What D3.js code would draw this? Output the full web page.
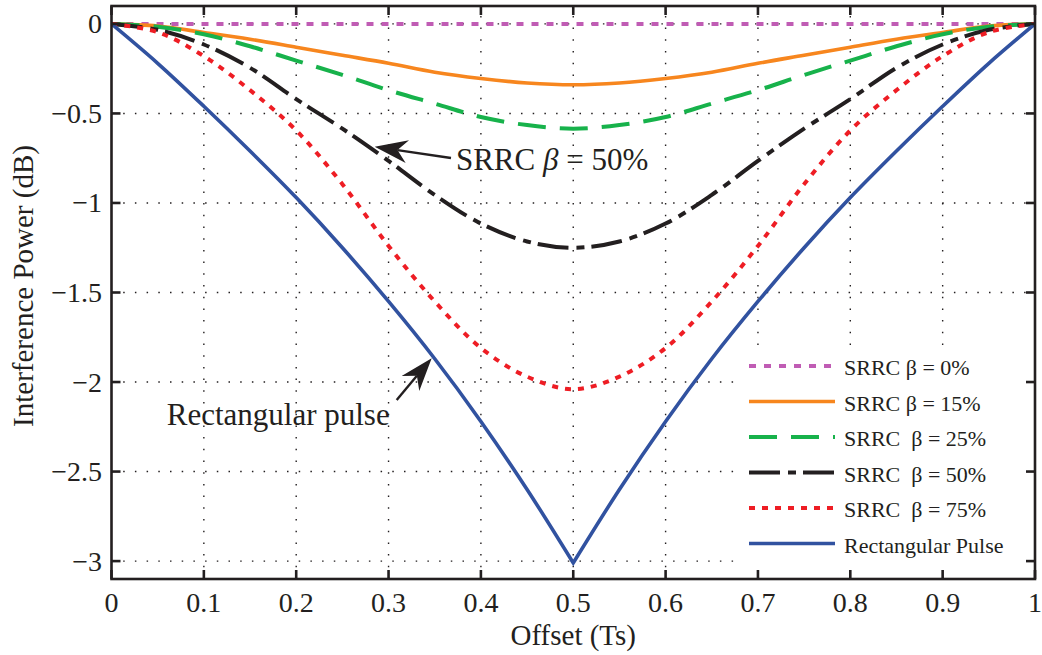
<!DOCTYPE html>
<html>
<head>
<meta charset="utf-8">
<script src="https://cdn.jsdelivr.net/npm/d3@7/dist/d3.min.js"></script>
<style>
  html, body { margin: 0; padding: 0; background: #fff; }
  svg { display: block; }
  text { font-family: "Liberation Serif", "Times New Roman", serif; fill: #231f20; white-space: pre; }
</style>
</head>
<body>
<svg id="chart" width="1042" height="655"></svg>
<script>
// Offset within the symbol period (Ts)
const offsets = [0, 0.05, 0.1, 0.15, 0.2, 0.25, 0.3, 0.35, 0.4, 0.45, 0.5,
                 0.55, 0.6, 0.65, 0.7, 0.75, 0.8, 0.85, 0.9, 0.95, 1];

// Interference power (dB) for each pulse shape
const srrc0  = [0, 0, 0, 0, 0, 0, 0, 0, 0, 0, 0, 0, 0, 0, 0, 0, 0, 0, 0, 0, 0];
const srrc15 = [0, -0.012, -0.048, -0.086, -0.13, -0.175, -0.22, -0.27, -0.305, -0.33, -0.34,
                -0.33, -0.305, -0.27, -0.22, -0.175, -0.13, -0.086, -0.048, -0.012, 0];
const srrc25 = [0, -0.016, -0.058, -0.125, -0.205, -0.285, -0.37, -0.445, -0.52, -0.565, -0.585,
                -0.565, -0.52, -0.445, -0.37, -0.285, -0.205, -0.125, -0.058, -0.016, 0];
const srrc50 = [0, -0.033, -0.115, -0.245, -0.42, -0.585, -0.765, -0.955, -1.115, -1.215, -1.25,
                -1.215, -1.115, -0.955, -0.765, -0.585, -0.42, -0.245, -0.115, -0.033, 0];
const srrc75 = [0, -0.046, -0.18, -0.37, -0.595, -0.895, -1.24, -1.55, -1.81, -1.97, -2.04,
                -1.97, -1.81, -1.55, -1.24, -0.895, -0.595, -0.37, -0.18, -0.046, 0];
const rectPulse = [0, -0.22, -0.46, -0.71, -0.97, -1.25, -1.55, -1.87, -2.22, -2.60, -3.01,
                   -2.60, -2.22, -1.87, -1.55, -1.25, -0.97, -0.71, -0.46, -0.22, 0];

const seriesNames = ["SRRC β = 0%", "SRRC β = 15%", "SRRC  β = 25%", "SRRC  β = 50%",
                     "SRRC  β = 75%", "Rectangular Pulse"];

const xTicks = [0, 0.1, 0.2, 0.3, 0.4, 0.5, 0.6, 0.7, 0.8, 0.9, 1];
const xTickLabels = ["0", "0.1", "0.2", "0.3", "0.4", "0.5", "0.6", "0.7", "0.8", "0.9", "1"];
const yTicks = [0, -0.5, -1, -1.5, -2, -2.5, -3];
const yTickLabels = ["0", "\u22120.5", "\u22121", "\u22121.5", "\u22122", "\u22122.5", "\u22123"];

const series = [
  { name: seriesNames[0], values: srrc0,     color: "#c05cb4", dash: "7,8",      width: 4,   cusp: false },
  { name: seriesNames[1], values: srrc15,    color: "#f7861e", dash: null,       width: 3.6, cusp: false },
  { name: seriesNames[2], values: srrc25,    color: "#17b24b", dash: "28,14",    width: 4,   cusp: false },
  { name: seriesNames[3], values: srrc50,    color: "#231f20", dash: "31,8,8,7", width: 4,   cusp: false },
  { name: seriesNames[4], values: srrc75,    color: "#ee1d24", dash: "6,7",      width: 4,   cusp: false },
  { name: seriesNames[5], values: rectPulse, color: "#3152a0", dash: null,       width: 3.6, cusp: true }
];

const svg = d3.select("#chart");
const plot = { left: 111.5, right: 1035, top: 6, bottom: 579 };

const x = d3.scaleLinear().domain([0, 1]).range([plot.left, plot.right]);
const y = d3.scaleLinear().domain([-3.1, 0.1]).range([plot.bottom, plot.top]);

svg.append("defs").append("clipPath").attr("id", "plotClip")
  .append("rect")
  .attr("x", plot.left).attr("y", plot.top)
  .attr("width", plot.right - plot.left).attr("height", plot.bottom - plot.top);

// Dotted grid
const grid = svg.append("g").attr("stroke", "#231f20").attr("stroke-width", 1.4)
  .attr("stroke-dasharray", "1.5,10.2");
grid.selectAll("line.v").data(xTicks.slice(1, -1)).join("line")
  .attr("x1", d => x(d)).attr("x2", d => x(d))
  .attr("y1", plot.bottom).attr("y2", plot.top);
grid.selectAll("line.h").data(yTicks).join("line")
  .attr("y1", d => y(d)).attr("y2", d => y(d))
  .attr("x1", plot.left).attr("x2", plot.right);

// Curves
const lineSmooth = d3.line().x(d => x(d.t)).y(d => y(d.v)).curve(d3.curveCatmullRom.alpha(0.5));
const lineMono = d3.line().x(d => x(d.t)).y(d => y(d.v)).curve(d3.curveMonotoneX);

function curvePath(s) {
  const pts = s.values.map((v, i) => ({ t: offsets[i], v }));
  if (!s.cusp) return lineSmooth(pts);
  // sharp minimum: smooth each side separately, joined at the cusp
  const k = d3.minIndex(s.values);
  const left = lineMono(pts.slice(0, k + 1));
  const right = lineMono(pts.slice(k)).replace(/^M/, "L");
  return left + right;
}

const curves = svg.append("g").attr("clip-path", "url(#plotClip)");
series.forEach(s => {
  curves.append("path")
    .attr("d", curvePath(s))
    .attr("fill", "none")
    .attr("stroke", s.color)
    .attr("stroke-width", s.width)
    .attr("stroke-dasharray", s.dash)
    .attr("stroke-linejoin", "miter");
});

// Legend
const legend = svg.append("g");
legend.append("rect")
  .attr("x", 735).attr("y", 348).attr("width", 296).attr("height", 224)
  .attr("fill", "#fff");
const legendRowH = 35.5;
series.forEach((s, i) => {
  const ly = 366 + i * legendRowH;
  legend.append("line")
    .attr("x1", 749).attr("x2", 835).attr("y1", ly).attr("y2", ly)
    .attr("stroke", s.color).attr("stroke-width", s.width)
    .attr("stroke-dasharray", s.dash);
  legend.append("text")
    .attr("x", 844).attr("y", ly + 9)
    .attr("font-size", 22)
    .text(s.name);
});

// Axes box with inward ticks on all four sides
const axes = svg.append("g").attr("stroke", "#231f20").attr("stroke-width", 2.6);
axes.append("rect")
  .attr("x", plot.left).attr("y", plot.top)
  .attr("width", plot.right - plot.left).attr("height", plot.bottom - plot.top)
  .attr("fill", "none");
const tickLen = 9;
xTicks.forEach(t => {
  axes.append("line").attr("x1", x(t)).attr("x2", x(t)).attr("y1", plot.bottom).attr("y2", plot.bottom - tickLen);
  axes.append("line").attr("x1", x(t)).attr("x2", x(t)).attr("y1", plot.top).attr("y2", plot.top + tickLen);
});
yTicks.forEach(t => {
  axes.append("line").attr("y1", y(t)).attr("y2", y(t)).attr("x1", plot.left).attr("x2", plot.left + tickLen);
  axes.append("line").attr("y1", y(t)).attr("y2", y(t)).attr("x1", plot.right).attr("x2", plot.right - tickLen);
});

// Tick labels
svg.append("g").selectAll("text").data(xTicks).join("text")
  .attr("x", d => x(d)).attr("y", 612)
  .attr("text-anchor", "middle").attr("font-size", 28)
  .text((d, i) => xTickLabels[i]);
svg.append("g").selectAll("text").data(yTicks).join("text")
  .attr("x", 102).attr("y", d => y(d)).attr("dy", "0.34em")
  .attr("text-anchor", "end").attr("font-size", 28)
  .text((d, i) => yTickLabels[i]);

// Axis titles
svg.append("text")
  .attr("x", (plot.left + plot.right) / 2).attr("y", 645)
  .attr("text-anchor", "middle").attr("font-size", 29)
  .text("Offset (Ts)");
svg.append("text")
  .attr("transform", "translate(33,286) rotate(-90)")
  .attr("text-anchor", "middle").attr("font-size", 29)
  .text("Interference Power (dB)");

// Annotation arrows
function arrow(tail, tip) {
  const [tx, ty] = [x(tip[0]), y(tip[1])];
  const [sx, sy] = [x(tail[0]), y(tail[1])];
  const len = Math.hypot(sx - tx, sy - ty);
  const ux = (sx - tx) / len, uy = (sy - ty) / len;
  const px = -uy, py = ux;
  const headL = 33, headW = 11.5, notch = 23;
  const g = svg.append("g");
  g.append("line")
    .attr("x1", sx).attr("y1", sy)
    .attr("x2", tx + ux * notch).attr("y2", ty + uy * notch)
    .attr("stroke", "#231f20").attr("stroke-width", 2.4);
  g.append("path")
    .attr("d", `M${tx},${ty}` +
      `L${tx + ux * headL + px * headW},${ty + uy * headL + py * headW}` +
      `L${tx + ux * notch},${ty + uy * notch}` +
      `L${tx + ux * headL - px * headW},${ty + uy * headL - py * headW}Z`)
    .attr("fill", "#231f20");
}
arrow([0.3676, -0.749], [0.285, -0.686]);
arrow([0.3088, -2.10], [0.3467, -1.867]);

const ann1 = svg.append("text")
  .attr("x", x(0.373)).attr("y", y(-0.816)).attr("font-size", 31);
ann1.append("tspan").text("SRRC ");
ann1.append("tspan").attr("font-style", "italic").text("β");
ann1.append("tspan").text(" = 50%");

svg.append("text")
  .attr("x", x(0.0598)).attr("y", y(-2.24)).attr("font-size", 31)
  .text("Rectangular pulse");
</script>
</body>
</html>
